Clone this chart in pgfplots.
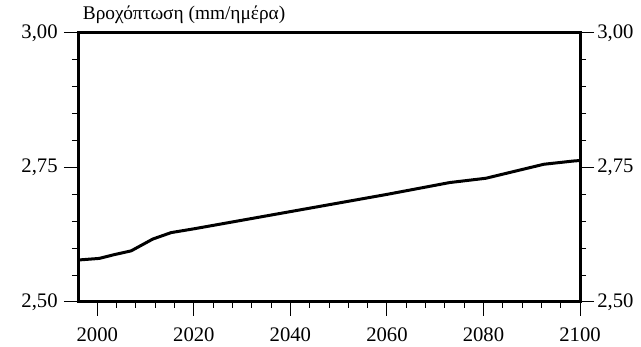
\documentclass[border=0pt]{standalone}
\usepackage{pgfplots}
\pgfplotsset{compat=1.18}
\usepackage{fontspec}
\setmainfont{Liberation Serif}
\begin{document}
\begin{tikzpicture}
\pgfplotsset{
  common/.style={
    width=376.5pt, height=201.75pt, scale only axis,
    xmin=1996, xmax=2100, ymin=2.5, ymax=3.0,
    xtick={2000,2020,...,2100},
    ytick={2.5,2.75,3.0},
    minor x tick num=4, minor y tick num=4,
    tick align=outside,
    major tick length=10.5pt, minor tick length=4.5pt,
    tick style={line width=0.75pt, black},
    /pgf/number format/assume math mode=true,
    tick label style={font=\fontsize{15.5}{18}\selectfont},
    xticklabel style={/pgf/number format/1000 sep={}, yshift=-5pt},
    yticklabel style={/pgf/number format/fixed, /pgf/number format/fixed zerofill, /pgf/number format/precision=2, /pgf/number format/use comma},
  }
}
\begin{axis}[common,
    clip=false,
    axis line style={line width=2.25pt},
    xtick pos=bottom, ytick pos=both, yticklabel pos=left,
    yticklabel style={xshift=-1.25pt},
]
\addplot[black, line width=2.25pt, line join=round] coordinates {
(1996,2.578) (2000.4,2.581) (2003.5,2.588) (2007,2.595) (2011.5,2.617) (2015.3,2.629)
(2020,2.636) (2040,2.668) (2060,2.700) (2073,2.722) (2080.5,2.730) (2092.5,2.756) (2098.6,2.762) (2100,2.763)
};
\node[anchor=base west, inner sep=0pt, font=\fontsize{14.5}{17}\selectfont] at ([xshift=3.5pt, yshift=10pt]rel axis cs:0,1) {Βροχόπτωση (mm/ημέρα)};
\end{axis}
\begin{axis}[common,
    axis x line=none, axis y line*=right,
    y axis line style={draw=none},
    ytick style={draw=none}, minor ytick={},
    yticklabel pos=right,
    yticklabel style={xshift=-1pt},
]
\end{axis}
\path ([xshift=-58.5pt,yshift=-33.75pt]current axis.south west) rectangle ([xshift=45.75pt,yshift=24.75pt]current axis.north east);
\end{tikzpicture}
\end{document}
